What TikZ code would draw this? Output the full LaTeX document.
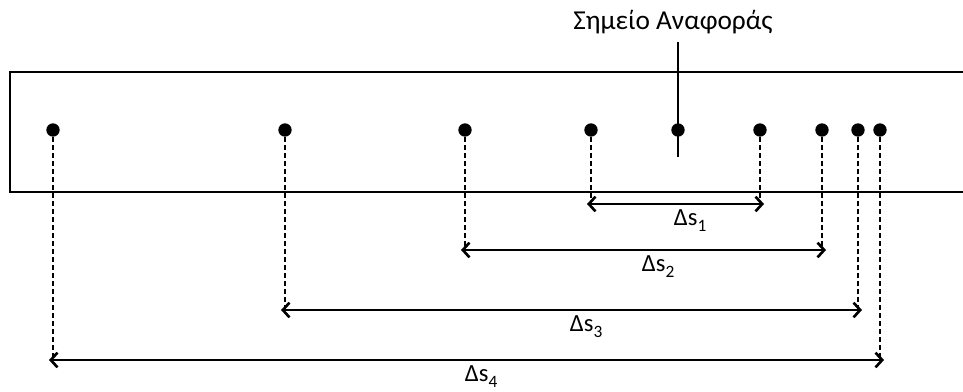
\documentclass[tikz,border=0pt]{standalone}
\usepackage{fontspec}
\setmainfont{Carlito}
\usetikzlibrary{arrows.meta}
\newcommand{\idx}[1]{\raisebox{-0.5ex}{\fontsize{13}{13}\selectfont #1}}
\tikzset{
  pt/.style={circle,fill=black,inner sep=0pt,minimum size=10pt},
  guide/.style={dash pattern=on 3.5pt off 2.5pt,line width=1pt},
  span/.style={{Straight Barb[length=5pt,width=11pt]}-{Straight Barb[length=5pt,width=11pt]},
    line width=2pt,shorten <=-3pt,shorten >=-3pt},
  lbl/.style={font=\fontsize{18.5}{22}\selectfont},
}
\begin{document}
\begin{tikzpicture}[x=0.75pt,y=-0.75pt]
  \useasboundingbox (0,0) rectangle (963,392);

  % strip (runs off the right side)
  \draw[line width=1.5pt] (963,72) -| (10,192) -- (963,192);

  % reference point
  \node[lbl,font=\fontsize{20.5}{24}\selectfont] (ref) at (673,22) {Σημείο Αναφοράς};
  \coordinate (refend) at (678,157);
  \draw[line width=1.4pt] (ref.south) ++(5,3) -- (refend);

  % points
  \foreach \n/\x in {a/53,b/285,c/465,d/591,r/678,e/760,f/822,g/858,h/880}
    \node[pt] (\n) at (\x,130) {};

  % distances
  \foreach \l/\r/\y/\i in {d/e/204/1,c/f/250/2,b/g/310/3,a/h/360/4} {
    \coordinate (lvl\i) at (0,\y);
    \coordinate (\l\i) at (\l |- lvl\i);
    \coordinate (\r\i) at (\r |- lvl\i);
    \draw[guide] (\l) -- (\l\i);
    \draw[guide] (\r) -- (\r\i);
    \draw[span] (\l\i) -- node[lbl,below=0pt,xshift=11pt] (ds\i) {Δs\idx{\i}} (\r\i);
  }
\end{tikzpicture}
\end{document}
